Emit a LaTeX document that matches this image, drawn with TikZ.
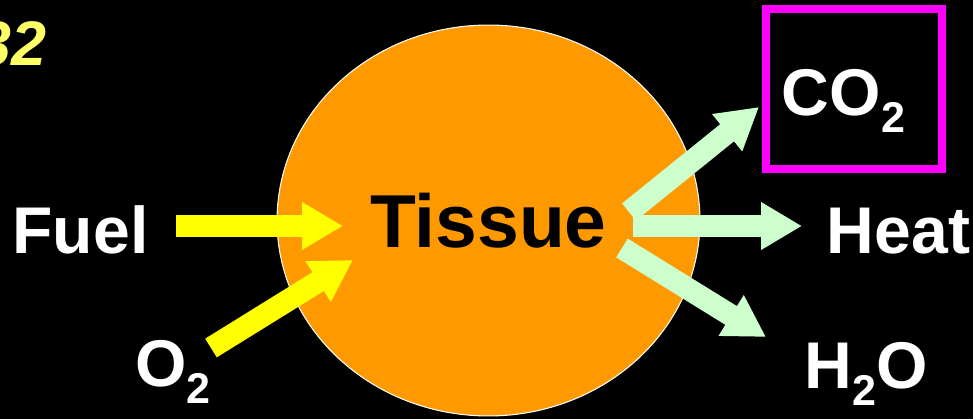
\documentclass[tikz,border=0pt]{standalone}
\usepackage{fontspec}
\setmainfont{Liberation Sans}
\usetikzlibrary{shapes.geometric,arrows.meta}

\definecolor{tissueorange}{HTML}{FF9900}
\definecolor{fuelyellow}{HTML}{FFFF00}
\definecolor{wastegreen}{HTML}{CCFFCC}
\definecolor{boxmagenta}{HTML}{FF00FF}
\definecolor{slideyellow}{HTML}{FFFF66}

\newcommand{\subtwo}{\raisebox{-10.2pt}{\fontsize{24.5}{24.5}\selectfont 2}}

\begin{document}
\begin{tikzpicture}[x=0.02cm, y=-0.02cm,
	word/.style={text=white, font=\fontsize{37.6}{40}\selectfont\bfseries, inner sep=0, anchor=base},
	infeed/.style={draw=fuelyellow, line width=0.44cm, -{Triangle[width=0.9cm, length=0.82cm]}},
	outfeed/.style={infeed, draw=wastegreen}]
	
	\useasboundingbox (0,0) rectangle (973,419);
	\fill[black] (0,0) rectangle (973,419);
	
	\node (tissue) [ellipse, draw=white, line width=0.6pt, fill=tissueorange, minimum width=8.46cm, minimum height=7.82cm, font=\fontsize{42.7}{45}\selectfont\bfseries] at (488.5, 220.5) {Tissue};
	\node (slide) [anchor=base east, inner sep=0, text=slideyellow, font=\fontsize{35.8}{38}\selectfont\bfseries\itshape] at (47, 65) {32};
	\node (co2box) [draw=boxmagenta, line width=0.16cm, minimum width=3.52cm, minimum height=3.2cm, inner sep=0] at (854, 89) {};
	
	\node (fuel) [word] at (80.5, 253) {Fuel};
	\node (o2) [word] at (173, 386) {O\subtwo};
	\node (heat) [word] at (898.5, 253) {Heat};
	\node (co2) [word] at (843.5, 115) {CO\subtwo};
	\node (h2o) [word] at (866, 388) {H\subtwo O};
	
	\coordinate (f1) at (176, 226);
	\coordinate (f2) at (343, 226);
	\coordinate (o1) at (211, 348);
	\coordinate (o2tip) at (353, 260);
	\coordinate (h1) at (633, 226);
	\coordinate (h2) at (802, 226);
	\coordinate (c1) at (629, 212);
	\coordinate (c2) at (759, 107);
	\coordinate (w1) at (622, 248);
	\coordinate (w2) at (766, 337);
	
	\path
	(f1) edge[infeed] (f2)
	(o1) edge[infeed] (o2tip)
	(h1) edge[outfeed] (h2)
	(c1) edge[outfeed] (c2)
	(w1) edge[outfeed] (w2);
	
\end{tikzpicture}
\end{document}
